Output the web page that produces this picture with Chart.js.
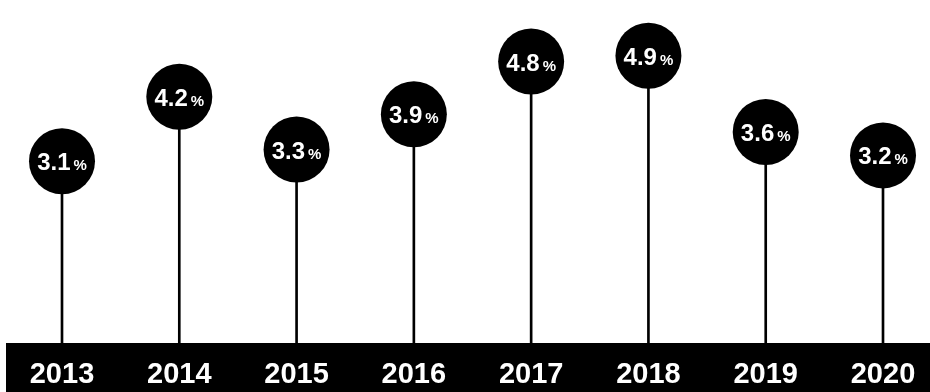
<!DOCTYPE html>
<html>
<head>
<meta charset="utf-8">
<script src="https://cdn.jsdelivr.net/npm/chart.js@4/dist/chart.umd.min.js"></script>
<style>
  body { margin: 0; background: #fff; }
  #wrap { position: relative; width: 930px; height: 392px; }
</style>
</head>
<body>
<div id="wrap"><canvas id="growthChart"></canvas></div>
<script>
// Données
const years = ['2013', '2014', '2015', '2016', '2017', '2018', '2019', '2020'];
const growth = [3.1, 4.2, 3.3, 3.9, 4.8, 4.9, 3.6, 3.2];
const unit = '%';

const FONT = "'Liberation Sans', Arial, Helvetica, sans-serif";

// bande noire sous les années
const bandPlugin = {
    id: 'band',
    beforeDraw(chart) {
        const x = chart.scales.x;
        const ctx = chart.ctx;
        ctx.save();
        ctx.fillStyle = '#000';
        ctx.fillRect(6, x.top, chart.width - 6, x.bottom - x.top);
        ctx.restore();
    }
};

// texte blanc dans les bulles
const bubbleLabels = {
    id: 'bubbleLabels',
    afterDatasetsDraw(chart) {
        const ctx = chart.ctx;
        const meta = chart.getDatasetMeta(1);
        ctx.save();
        ctx.fillStyle = '#fff';
        ctx.textBaseline = 'alphabetic';
        meta.data.forEach((pt, i) => {
            const num = growth[i].toFixed(1);
            ctx.font = 'bold 24px ' + FONT;
            const w1 = ctx.measureText(num).width;
            ctx.font = 'bold 15px ' + FONT;
            const w2 = ctx.measureText(unit).width;
            const gap = 3;
            const start = pt.x - (w1 + gap + w2) / 2;
            const base = pt.y + 9;
            ctx.font = 'bold 24px ' + FONT;
            ctx.textAlign = 'left';
            ctx.fillText(num, start, base);
            ctx.font = 'bold 15px ' + FONT;
            ctx.fillText(unit, start + w1 + gap, base);
        });
        ctx.restore();
    }
};

new Chart(document.getElementById('growthChart'), {
    type: 'bar',
    data: {
        labels: years,
        datasets: [
            {
                type: 'bar',
                data: growth,
                backgroundColor: '#000',
                barThickness: 2,
                clip: false,
                order: 2
            },
            {
                type: 'line',
                data: growth,
                showLine: false,
                pointRadius: 33,
                pointHoverRadius: 33,
                pointBackgroundColor: '#000',
                pointBorderWidth: 0,
                clip: false,
                order: 1
            }
        ]
    },
    options: {
        responsive: true,
        maintainAspectRatio: false,
        animation: false,
        layout: { autoPadding: false, padding: { left: 62, right: 47, top: 0, bottom: 0 } },
        plugins: { legend: { display: false }, tooltip: { enabled: false } },
        scales: {
            x: {
                offset: false,
                grid: { display: false },
                border: { display: false },
                ticks: {
                    color: '#fff',
                    padding: 7,
                    maxRotation: 0,
                    font: { family: FONT, size: 29, weight: 'bold' }
                },
                afterFit(scale) { scale.height = 49; }
            },
            y: {
                display: false,
                min: 0,
                max: 5.85
            }
        }
    },
    plugins: [bandPlugin, bubbleLabels]
});
</script>
</body>
</html>
